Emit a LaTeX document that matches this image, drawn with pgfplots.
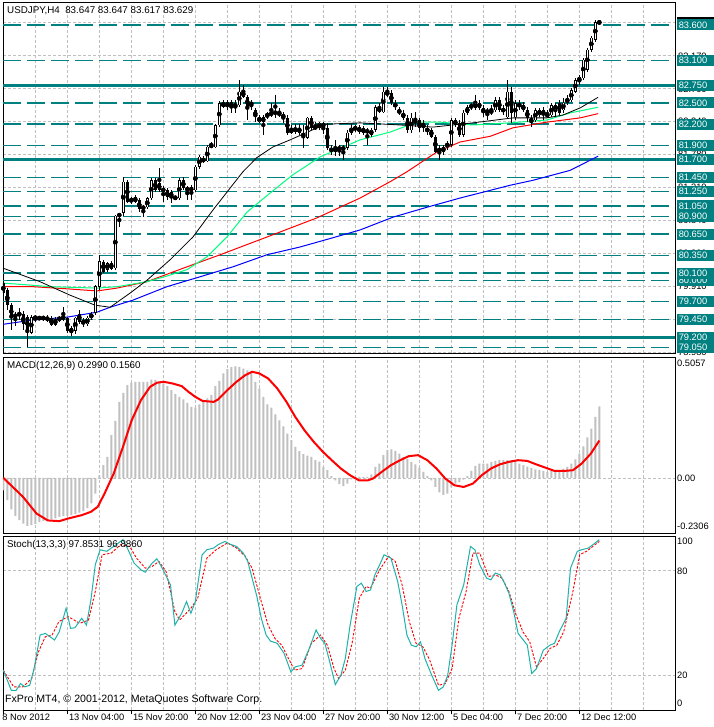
\documentclass[border=0pt]{standalone}
\usepackage{fontspec}
\setmainfont{Liberation Sans}
\usepackage{pgfplots}
\usepackage{pgfplotstable}
\pgfplotsset{compat=1.18}
\definecolor{mtteal}{RGB}{0,128,128}
\definecolor{silver}{RGB}{192,192,192}
\definecolor{springgreen}{RGB}{0,255,127}
\definecolor{lseagreen}{RGB}{32,178,170}
\pgfplotsset{
  tdash/.style={mtteal, line width=1.6pt, dash pattern=on 18pt off 6pt},
  tsolid/.style={mtteal, line width=3pt},
  mtaxis/.style={scale only axis, width=672pt, xmin=-0.075, xmax=167.925,
    axis line style={black, line width=0.8pt}, tick style={draw=none},
    xtick={0,8,...,160}, xticklabels={}, yticklabels={},
    major grid style={silver, dash pattern=on 3pt off 2pt, line width=0.7pt},
    xmajorgrids, clip mode=individual, axis background/.style={fill=white}},
}
\tikzset{
  tlab/.style={fill=mtteal, text=white, anchor=west, xshift=1.6pt, inner xsep=2pt, inner ysep=0pt, minimum height=11pt, text width=33pt, align=left},
  glab/.style={anchor=west, xshift=3pt, inner sep=0pt, text=black},
  ttl/.style={anchor=north west, inner sep=0pt, font=\fontsize{9.8}{11}\selectfont},
}
\pgfplotstableread{
i O H L C
0 79.96 79.99 79.78 79.82
1 79.86 79.89 79.58 79.65
2 79.65 79.68 79.30 79.47
3 79.47 79.55 79.36 79.53
4 79.50 79.61 79.44 79.54
5 79.53 79.57 79.30 79.38
6 79.48 79.51 79.06 79.30
7 79.26 79.51 79.24 79.48
8 79.47 79.51 79.41 79.48
9 79.47 79.50 79.44 79.46
10 79.46 79.50 79.43 79.48
11 79.48 79.51 79.41 79.44
12 79.47 79.50 79.36 79.37
13 79.45 79.48 79.36 79.37
14 79.44 79.50 79.41 79.48
15 79.47 79.62 79.43 79.48
16 79.47 79.48 79.26 79.29
17 79.33 79.36 79.21 79.26
18 79.29 79.48 79.24 79.47
19 79.53 79.58 79.38 79.41
20 79.44 79.47 79.34 79.38
21 79.38 79.50 79.36 79.47
22 79.47 79.55 79.44 79.53
23 79.54 79.93 79.51 79.92
24 79.91 80.36 79.86 80.27
25 80.26 80.29 80.10 80.12
26 80.15 80.26 80.12 80.24
27 80.24 80.27 80.15 80.16
28 80.17 80.92 80.15 80.91
29 80.89 80.95 80.75 80.95
30 80.95 81.46 80.91 81.39
31 81.39 81.41 81.09 81.10
32 81.10 81.17 81.08 81.16
33 81.17 81.20 81.09 81.10
34 81.13 81.16 80.96 81.00
35 81.00 81.06 80.89 81.05
36 81.03 81.17 81.00 81.16
37 81.16 81.44 81.13 81.41
38 81.41 81.44 81.25 81.27
39 81.37 81.58 81.25 81.27
40 81.25 81.33 81.10 81.30
41 81.27 81.30 81.13 81.17
42 81.25 81.27 81.09 81.16
43 81.16 81.19 81.13 81.17
44 81.16 81.44 81.13 81.41
45 81.41 81.46 81.27 81.30
46 81.30 81.33 81.13 81.27
47 81.32 81.34 81.13 81.25
48 81.27 81.63 81.25 81.60
49 81.60 81.77 81.57 81.74
50 81.72 81.75 81.65 81.67
51 81.68 81.91 81.67 81.88
52 81.88 81.95 81.87 81.91
53 81.88 82.20 81.87 82.19
54 82.19 82.53 82.16 82.50
55 82.51 82.54 82.43 82.44
56 82.44 82.54 82.40 82.51
57 82.51 82.54 82.36 82.44
58 82.49 82.54 82.36 82.44
59 82.47 82.82 82.44 82.66
60 82.66 82.75 82.57 82.59
61 82.59 82.61 82.26 82.44
62 82.51 82.54 82.40 82.47
63 82.40 82.43 82.23 82.30
64 82.23 82.33 82.22 82.30
65 82.30 82.33 82.05 82.23
66 82.30 82.37 82.27 82.36
67 82.33 82.50 82.30 82.37
68 82.36 82.61 82.29 82.37
69 82.37 82.43 82.30 82.33
70 82.33 82.37 82.22 82.30
71 82.29 82.33 82.05 82.08
72 82.08 82.19 82.06 82.13
73 82.15 82.20 82.06 82.09
74 82.15 82.20 82.05 82.08
75 82.08 82.19 81.87 82.02
76 82.01 82.30 81.99 82.29
77 82.29 82.32 82.12 82.15
78 82.15 82.23 82.12 82.16
79 82.15 82.23 82.12 82.22
80 82.22 82.23 82.06 82.15
81 82.15 82.22 81.84 81.87
82 81.87 81.91 81.77 81.81
83 81.81 81.98 81.75 81.87
84 81.88 81.91 81.75 81.84
85 81.84 81.91 81.70 81.88
86 81.87 82.12 81.84 82.08
87 82.08 82.20 82.05 82.15
88 82.13 82.19 82.09 82.16
89 82.16 82.19 82.06 82.09
90 82.15 82.18 82.05 82.08
91 82.12 82.15 81.91 82.08
92 82.05 82.15 82.02 82.12
93 82.12 82.47 82.09 82.44
94 82.44 82.50 82.36 82.37
95 82.37 82.73 82.36 82.66
96 82.66 82.73 82.59 82.61
97 82.64 82.68 82.47 82.50
98 82.50 82.54 82.40 82.44
99 82.40 82.44 82.33 82.36
100 82.36 82.40 82.26 82.29
101 82.29 82.33 82.08 82.12
102 82.12 82.36 82.08 82.29
103 82.26 82.37 82.16 82.22
104 82.26 82.29 82.09 82.15
105 82.22 82.26 82.09 82.15
106 82.15 82.19 82.05 82.09
107 82.12 82.15 82.01 82.02
108 82.02 82.05 81.80 81.81
109 81.87 81.91 81.70 81.81
110 81.81 81.91 81.77 81.88
111 81.88 81.96 81.84 81.94
112 81.91 82.29 81.88 82.26
113 82.26 82.29 82.16 82.19
114 82.22 82.26 82.02 82.05
115 82.05 82.40 82.02 82.36
116 82.36 82.47 82.33 82.44
117 82.44 82.50 82.40 82.47
118 82.43 82.61 82.40 82.50
119 82.50 82.54 82.40 82.43
120 82.43 82.47 82.30 82.36
121 82.36 82.43 82.26 82.40
122 82.36 82.47 82.33 82.40
123 82.40 82.59 82.37 82.54
124 82.54 82.59 82.37 82.40
125 82.43 82.47 82.33 82.37
126 82.30 82.82 82.29 82.66
127 82.66 82.73 82.22 82.36
128 82.30 82.54 82.26 82.50
129 82.50 82.54 82.40 82.44
130 82.47 82.51 82.37 82.40
131 82.40 82.44 82.23 82.29
132 82.29 82.33 82.16 82.22
133 82.26 82.43 82.23 82.40
134 82.33 82.43 82.30 82.40
135 82.40 82.44 82.26 82.33
136 82.36 82.40 82.29 82.30
137 82.33 82.50 82.30 82.47
138 82.40 82.50 82.30 82.47
139 82.50 82.54 82.33 82.36
140 82.40 82.57 82.36 82.50
141 82.50 82.61 82.47 82.57
142 82.54 82.71 82.51 82.68
143 82.66 82.85 82.64 82.82
144 82.80 82.89 82.75 82.87
145 82.85 83.13 82.82 83.11
146 82.97 83.27 82.94 83.25
147 83.25 83.44 83.22 83.42
148 83.39 83.67 83.36 83.64
149 83.647 83.647 83.617 83.629
}\candles
\pgfplotstableread{
i v
0 -0.052
1 -0.093
2 -0.132
3 -0.159
4 -0.177
5 -0.191
6 -0.201
7 -0.198
8 -0.192
9 -0.185
10 -0.180
11 -0.176
12 -0.173
13 -0.169
14 -0.163
15 -0.160
16 -0.159
17 -0.156
18 -0.152
19 -0.145
20 -0.139
21 -0.126
22 -0.107
23 -0.066
24 0.010
25 0.053
26 0.088
27 0.179
28 0.238
29 0.318
30 0.356
31 0.388
32 0.399
33 0.402
34 0.402
35 0.402
36 0.402
37 0.411
38 0.410
39 0.404
40 0.395
41 0.384
42 0.367
43 0.351
44 0.339
45 0.328
46 0.314
47 0.297
48 0.294
49 0.308
50 0.322
51 0.333
52 0.346
53 0.384
54 0.406
55 0.437
56 0.455
57 0.463
58 0.466
59 0.464
60 0.457
61 0.450
62 0.439
63 0.402
64 0.374
65 0.339
66 0.308
67 0.294
68 0.266
69 0.241
70 0.216
71 0.185
72 0.158
73 0.130
74 0.112
75 0.099
76 0.093
77 0.088
78 0.074
79 0.068
80 0.046
81 0.032
82 0.007
83 -0.010
84 -0.026
85 -0.035
86 -0.024
87 -0.006
88 0.003
89 0.004
90 0.004
91 0.004
92 0.015
93 0.046
94 0.060
95 0.095
96 0.116
97 0.119
98 0.113
99 0.102
100 0.088
101 0.078
102 0.067
103 0.056
104 0.043
105 0.025
106 0.008
107 -0.010
108 -0.038
109 -0.061
110 -0.071
111 -0.066
112 -0.040
113 -0.024
114 -0.018
115 -0.007
116 0.007
117 0.029
118 0.050
119 0.060
120 0.060
121 0.060
122 0.066
123 0.071
124 0.074
125 0.074
126 0.074
127 0.074
128 0.067
129 0.060
130 0.053
131 0.047
132 0.042
133 0.036
134 0.032
135 0.029
136 0.025
137 0.028
138 0.029
139 0.032
140 0.038
141 0.046
142 0.060
143 0.077
144 0.102
145 0.132
146 0.169
147 0.206
148 0.255
149 0.299
}\macdh
\begin{document}
\begin{tikzpicture}[font=\fontsize{9.3}{10}\selectfont]
\path[use as bounding box] (0,0) rectangle (713pt,-727pt);
% ================= MAIN PRICE PANEL =================
\begin{axis}[mtaxis, at={(3pt,-2pt)}, anchor=north west, height=351pt,
  ymin=78.975, ymax=83.924,
  ytick={78.98,79.445,79.91,80.375,80.84,81.305,81.77,82.235,82.70,83.165,83.63},
  ymajorgrids]
% level lines
\addplot[tdash] coordinates {(-0.075,83.6) (167.925,83.6)};
\addplot[tdash] coordinates {(-0.075,83.1) (167.925,83.1)};
\addplot[tdash] coordinates {(-0.075,82.5) (167.925,82.5)};
\addplot[tdash] coordinates {(-0.075,82.2) (167.925,82.2)};
\addplot[tdash] coordinates {(-0.075,81.9) (167.925,81.9)};
\addplot[tdash] coordinates {(-0.075,81.45) (167.925,81.45)};
\addplot[tdash] coordinates {(-0.075,81.25) (167.925,81.25)};
\addplot[tdash] coordinates {(-0.075,81.05) (167.925,81.05)};
\addplot[tdash] coordinates {(-0.075,80.9) (167.925,80.9)};
\addplot[tdash] coordinates {(-0.075,80.65) (167.925,80.65)};
\addplot[tdash] coordinates {(-0.075,80.35) (167.925,80.35)};
\addplot[tdash] coordinates {(-0.075,80.1) (167.925,80.1)};
\addplot[tdash] coordinates {(-0.075,80.0) (167.925,80.0)};
\addplot[tdash] coordinates {(-0.075,79.7) (167.925,79.7)};
\addplot[tdash] coordinates {(-0.075,79.45) (167.925,79.45)};
\addplot[tdash] coordinates {(-0.075,79.05) (167.925,79.05)};
\addplot[tsolid] coordinates {(-0.075,82.75) (167.925,82.75)};
\addplot[tsolid] coordinates {(-0.075,81.7) (167.925,81.7)};
\addplot[tsolid] coordinates {(-0.075,79.2) (167.925,79.2)};
% moving averages
\addplot[blue, line width=1pt] coordinates {(0,79.38) (7.4,79.44) (15.9,79.48) (23.4,79.55) (26.7,79.62) (32.4,79.72) (40.9,79.91) (49.2,80.05) (57.4,80.19) (65.9,80.36) (74.2,80.47) (82.4,80.60) (89.2,80.71) (97.4,80.89) (105.9,81.03) (114.2,81.16) (126.7,81.34) (132.4,81.41) (141.7,81.55) (148.7,81.75)};
\addplot[red, line width=1pt] coordinates {(0,79.91) (7.4,79.91) (15.9,79.88) (23.4,79.85) (28.4,79.89) (35.9,79.98) (45.9,80.19) (54.2,80.36) (65.9,80.61) (78.4,80.88) (89.2,81.16) (96.7,81.39) (100.9,81.53) (108.4,81.81) (114.2,81.95) (121.7,82.03) (127.4,82.15) (135.9,82.23) (144.2,82.29) (148.7,82.35)};
\addplot[springgreen, line width=1pt] coordinates {(0,79.96) (7.4,79.93) (11.7,79.91) (23.4,79.89) (28.4,79.91) (35.9,79.98) (40.9,80.06) (45.9,80.15) (50.9,80.33) (55.9,80.61) (60.9,80.96) (66.7,81.23) (72.2,81.48) (79.2,81.74) (89.2,81.98) (96.7,82.09) (103.4,82.23) (109.2,82.23) (117.4,82.19) (126.7,82.22) (135.9,82.26) (141.7,82.36) (148.7,82.44)};
\addplot[black, line width=0.8pt] coordinates {(0,80.17) (9.2,79.98) (16.7,79.79) (22.9,79.65) (26.7,79.62) (31.7,79.82) (35.9,80.00) (41.7,80.29) (47.4,80.61) (52.4,80.99) (56.7,81.30) (59.9,81.53) (63.4,81.73) (67.4,81.88) (71.7,81.98) (74.9,82.06) (80.4,82.20) (89.2,82.22) (99.2,82.19) (107.4,82.16) (117.4,82.22) (127.4,82.29) (135.9,82.29) (139.9,82.33) (144.2,82.43) (148.7,82.58)};
% candles: wicks, bodies, hollow interiors
\addplot[only marks, mark=none, error bars/.cd, y dir=both, y explicit, error mark=none,
  error bar style={black, solid, line width=1pt}]
  table[x=i, y expr={(\thisrow{H}+\thisrow{L})/2}, y error expr={(\thisrow{H}-\thisrow{L})/2}] {\candles};
\addplot[only marks, mark=none, error bars/.cd, y dir=both, y explicit, error mark=none,
  error bar style={black, solid, line width=3pt}]
  table[x=i, y expr={(\thisrow{O}+\thisrow{C})/2}, y error expr={max(abs(\thisrow{O}-\thisrow{C})/2,0.0071)}] {\candles};
\addplot[only marks, mark=none, error bars/.cd, y dir=both, y explicit, error mark=none,
  error bar style={white, solid, line width=1pt}]
  table[x=i, y expr={(\thisrow{O}+\thisrow{C})/2}, y error expr={(\thisrow{C}>\thisrow{O})*max((\thisrow{C}-\thisrow{O})/2-0.0071,0)}] {\candles};
% scale labels (grid values)
\node[glab] at (axis cs:167.925,83.165) {83.170};
\node[glab] at (axis cs:167.925,82.70) {82.700};
\node[glab] at (axis cs:167.925,82.235) {82.240};
\node[glab] at (axis cs:167.925,81.77) {81.780};
\node[glab] at (axis cs:167.925,81.305) {81.310};
\node[glab] at (axis cs:167.925,80.84) {80.840};
\node[glab] at (axis cs:167.925,80.375) {80.380};
\node[glab] at (axis cs:167.925,79.91) {79.910};
\node[glab] at (axis cs:167.925,79.445) {79.450};
\node[glab] at (axis cs:167.925,78.98) {78.980};
\node[tlab, fill=black] at (axis cs:167.925,83.629) {83.629};
% level labels
\node[tlab] at (axis cs:167.925,83.6) {83.600};
\node[tlab] at (axis cs:167.925,83.1) {83.100};
\node[tlab] at (axis cs:167.925,82.75) {82.750};
\node[tlab] at (axis cs:167.925,82.5) {82.500};
\node[tlab] at (axis cs:167.925,82.2) {82.200};
\node[tlab] at (axis cs:167.925,81.9) {81.900};
\node[tlab] at (axis cs:167.925,81.7) {81.700};
\node[tlab] at (axis cs:167.925,81.45) {81.450};
\node[tlab] at (axis cs:167.925,81.25) {81.250};
\node[tlab] at (axis cs:167.925,81.05) {81.050};
\node[tlab] at (axis cs:167.925,80.9) {80.900};
\node[tlab] at (axis cs:167.925,80.65) {80.650};
\node[tlab] at (axis cs:167.925,80.35) {80.350};
\node[tlab] at (axis cs:167.925,80.0) {80.000};
\node[tlab] at (axis cs:167.925,80.1) {80.100};
\node[tlab] at (axis cs:167.925,79.7) {79.700};
\node[tlab] at (axis cs:167.925,79.45) {79.450};
\node[tlab] at (axis cs:167.925,79.05) {79.050};
\node[tlab] at (axis cs:167.925,79.2) {79.200};
\node[ttl] at ([xshift=4pt,yshift=-4pt]rel axis cs:0,1) {USDJPY,H4\ \ 83.647 83.647 83.617 83.629};
\end{axis}
% ================= MACD PANEL =================
\begin{axis}[mtaxis, at={(3pt,-357pt)}, anchor=north west, height=176pt,
  ymin=-0.2306, ymax=0.5057, ytick={0}, ymajorgrids]
\addplot[ybar, bar width=2pt, fill=silver, draw=none] table[x=i, y=v] {\macdh};
\addplot[red, line width=2pt] coordinates {(0,0.000) (4.9,-0.079) (8.3,-0.149) (11.1,-0.178) (14.0,-0.181) (16.2,-0.170) (19.6,-0.156) (21.9,-0.142) (23.6,-0.121) (25.3,-0.066) (27.6,0.018) (29.9,0.129) (32.1,0.241) (34.4,0.325) (36.7,0.381) (38.4,0.398) (40.1,0.402) (42.3,0.395) (44.6,0.384) (46.3,0.360) (48.0,0.339) (49.8,0.322) (52.6,0.318) (53.7,0.328) (56.0,0.367) (58.3,0.402) (60.5,0.430) (62.2,0.444) (64.0,0.437) (66.2,0.416) (68.5,0.374) (70.8,0.318) (73.0,0.255) (75.3,0.199) (77.6,0.151) (79.9,0.109) (82.1,0.074) (84.4,0.039) (86.7,0.011) (88.9,-0.010) (91.2,-0.010) (92.4,-0.003) (94.6,0.025) (96.9,0.053) (99.2,0.074) (101.4,0.091) (103.7,0.095) (106.0,0.074) (108.3,0.039) (110.5,-0.003) (112.8,-0.031) (115.1,-0.038) (117.4,-0.024) (119.6,0.011) (121.9,0.039) (124.2,0.057) (126.4,0.067) (128.7,0.074) (131.0,0.071) (133.3,0.056) (135.5,0.043) (137.8,0.029) (140.1,0.029) (142.4,0.032) (144.6,0.060) (146.9,0.102) (149,0.156)};
\node[ttl] at ([xshift=4pt,yshift=-4pt]rel axis cs:0,1) {MACD(12,26,9) 0.2990 0.1560};
\node[anchor=north west, xshift=2pt, yshift=-3pt, inner sep=0pt] at (axis cs:167.925,0.5057) {0.5057};
\node[anchor=west, xshift=2pt, inner sep=0pt] at (axis cs:167.925,0) {0.00};
\node[anchor=south west, xshift=2pt, yshift=3pt, inner sep=0pt] at (axis cs:167.925,-0.2306) {-0.2306};
\end{axis}
% ================= STOCHASTIC PANEL =================
\begin{axis}[mtaxis, at={(3pt,-536pt)}, anchor=north west, height=174pt,
  ymin=0, ymax=100, ytick={20,80}, ymajorgrids]
\addplot[red, line width=0.9pt, dash pattern=on 2.5pt off 1.5pt] coordinates {(0,22.9) (2.6,13.3) (4.9,13.3) (7.1,18.1) (8.8,33.5) (10.5,42.1) (12.2,43.1) (13.9,50.8) (16.2,53.7) (19.1,49.8) (21.3,51.7) (23.0,68.1) (24.7,89.2) (27.0,90.2) (29.3,95.0) (31.6,94.0) (33.3,87.3) (35.5,81.5) (37.2,82.5) (38.9,85.4) (40.7,79.6) (42.9,56.5) (44.1,51.7) (46.9,58.5) (48.6,64.2) (50.9,87.3) (53.2,92.1) (56.0,96.0) (58.3,93.1) (60.5,88.3) (62.2,81.5) (64.5,62.3) (66.2,48.8) (67.9,41.2) (69.6,37.3) (71.3,29.6) (72.8,22.9) (74.7,23.8) (77.0,38.3) (79.3,43.1) (81.0,37.3) (82.7,23.8) (83.8,18.1) (85.5,22.9) (87.2,38.3) (89.0,64.2) (90.7,71.0) (91.8,70.0) (94.1,80.6) (96.3,88.3) (98.0,85.4) (99.7,71.9) (101.5,50.8) (103.2,38.3) (104.9,36.3) (106.6,28.7) (108.8,14.2) (110.5,15.2) (112.2,23.8) (113.9,52.7) (115.7,68.1) (117.4,90.2) (119.1,90.2) (121.3,76.7) (123.0,77.7) (124.7,75.8) (126.4,68.1) (128.2,54.6) (129.9,45.0) (131.6,39.2) (133.3,24.8) (135.0,29.6) (136.7,35.4) (138.4,37.3) (140.1,45.0) (142.4,68.1) (144.1,89.2) (145.8,91.2) (149,96.886)};
\addplot[lseagreen, line width=1pt] coordinates {(0,22.9) (2.0,11.3) (3.2,11.3) (4.3,15.2) (5.4,13.3) (6.6,14.2) (7.7,23.8) (9.2,43.1) (10.5,44.0) (11.7,42.1) (12.8,40.2) (14.0,45.0) (15.7,58.5) (16.8,46.9) (17.9,47.3) (19.6,52.7) (20.8,48.8) (21.9,63.3) (23.0,83.5) (24.2,92.1) (25.9,91.2) (27.0,93.1) (28.2,95.0) (29.9,97.9) (31.0,93.1) (32.7,84.4) (34.4,80.6) (35.5,79.2) (37.2,84.4) (38.4,86.9) (39.5,82.5) (41.8,71.9) (42.9,48.8) (44.6,55.6) (45.8,62.3) (46.9,55.6) (48.0,62.3) (49.7,89.2) (50.9,92.1) (52.6,93.1) (53.7,95.0) (55.4,96.9) (56.6,95.4) (58.3,94.0) (60.0,90.2) (61.1,85.4) (62.2,75.8) (63.4,65.2) (64.5,52.7) (65.7,43.1) (66.8,39.6) (68.5,38.3) (70.2,32.5) (71.9,21.9) (73.0,24.8) (74.7,25.8) (76.5,35.4) (78.2,46.0) (79.3,41.2) (80.4,38.3) (81.6,27.7) (83.0,14.6) (84.4,20.0) (85.5,29.6) (86.7,48.8) (88.4,71.0) (89.5,72.9) (90.7,68.1) (91.8,69.0) (92.9,77.7) (94.1,83.5) (95.2,89.2) (96.9,87.3) (98.6,73.8) (99.7,60.4) (100.9,43.1) (102.0,37.3) (103.2,36.3) (104.3,39.2) (105.4,29.6) (107.1,20.0) (108.8,11.3) (110.0,13.3) (111.1,20.0) (112.2,37.3) (113.4,60.4) (115.1,71.9) (116.8,94.0) (117.9,92.1) (119.1,83.5) (120.8,75.8) (121.9,74.8) (123.0,78.7) (124.2,77.7) (125.3,72.9) (126.4,67.1) (127.6,56.5) (128.7,44.0) (131.0,37.3) (132.1,21.0) (133.3,23.8) (135.0,34.4) (136.7,37.3) (137.8,38.3) (139.0,45.0) (140.7,52.7) (141.8,81.5) (143.5,91.2) (144.6,92.1) (146.3,93.1) (149,97.853)};
\node[ttl] at ([xshift=4pt,yshift=-4pt]rel axis cs:0,1) {Stoch(13,3,3) 97.8531 96.8860};
\node[anchor=south west, inner sep=0pt, font=\fontsize{10.6}{12}\selectfont] at ([xshift=2pt,yshift=5pt]rel axis cs:0,0) {FxPro MT4, © 2001-2012, MetaQuotes Software Corp.};
\node[anchor=north west, xshift=2pt, yshift=-2pt, inner sep=0pt] at (axis cs:167.925,100) {100};
\node[anchor=west, xshift=2pt, inner sep=0pt] at (axis cs:167.925,80) {80};
\node[anchor=west, xshift=2pt, inner sep=0pt] at (axis cs:167.925,20) {20};
\node[anchor=south west, xshift=2pt, yshift=3pt, inner sep=0pt] at (axis cs:167.925,0) {0};
% date labels
\draw[black, line width=0.8pt] (axis cs:0,0) -- ++(0,-4pt);
\node[anchor=north west, inner sep=0pt, yshift=-4pt, xshift=-1pt] at (axis cs:0,0) {8 Nov 2012};
\draw[black, line width=0.8pt] (axis cs:16,0) -- ++(0,-4pt);
\node[anchor=north west, inner sep=0pt, yshift=-4pt, xshift=1.5pt] at (axis cs:16,0) {13 Nov 04:00};
\draw[black, line width=0.8pt] (axis cs:32,0) -- ++(0,-4pt);
\node[anchor=north west, inner sep=0pt, yshift=-4pt, xshift=1.5pt] at (axis cs:32,0) {15 Nov 20:00};
\draw[black, line width=0.8pt] (axis cs:48,0) -- ++(0,-4pt);
\node[anchor=north west, inner sep=0pt, yshift=-4pt, xshift=1.5pt] at (axis cs:48,0) {20 Nov 12:00};
\draw[black, line width=0.8pt] (axis cs:64,0) -- ++(0,-4pt);
\node[anchor=north west, inner sep=0pt, yshift=-4pt, xshift=1.5pt] at (axis cs:64,0) {23 Nov 04:00};
\draw[black, line width=0.8pt] (axis cs:80,0) -- ++(0,-4pt);
\node[anchor=north west, inner sep=0pt, yshift=-4pt, xshift=1.5pt] at (axis cs:80,0) {27 Nov 20:00};
\draw[black, line width=0.8pt] (axis cs:96,0) -- ++(0,-4pt);
\node[anchor=north west, inner sep=0pt, yshift=-4pt, xshift=1.5pt] at (axis cs:96,0) {30 Nov 12:00};
\draw[black, line width=0.8pt] (axis cs:112,0) -- ++(0,-4pt);
\node[anchor=north west, inner sep=0pt, yshift=-4pt, xshift=1.5pt] at (axis cs:112,0) {5 Dec 04:00};
\draw[black, line width=0.8pt] (axis cs:128,0) -- ++(0,-4pt);
\node[anchor=north west, inner sep=0pt, yshift=-4pt, xshift=1.5pt] at (axis cs:128,0) {7 Dec 20:00};
\draw[black, line width=0.8pt] (axis cs:144,0) -- ++(0,-4pt);
\node[anchor=north west, inner sep=0pt, yshift=-4pt, xshift=1.5pt] at (axis cs:144,0) {12 Dec 12:00};
\end{axis}
\end{tikzpicture}
\end{document}
